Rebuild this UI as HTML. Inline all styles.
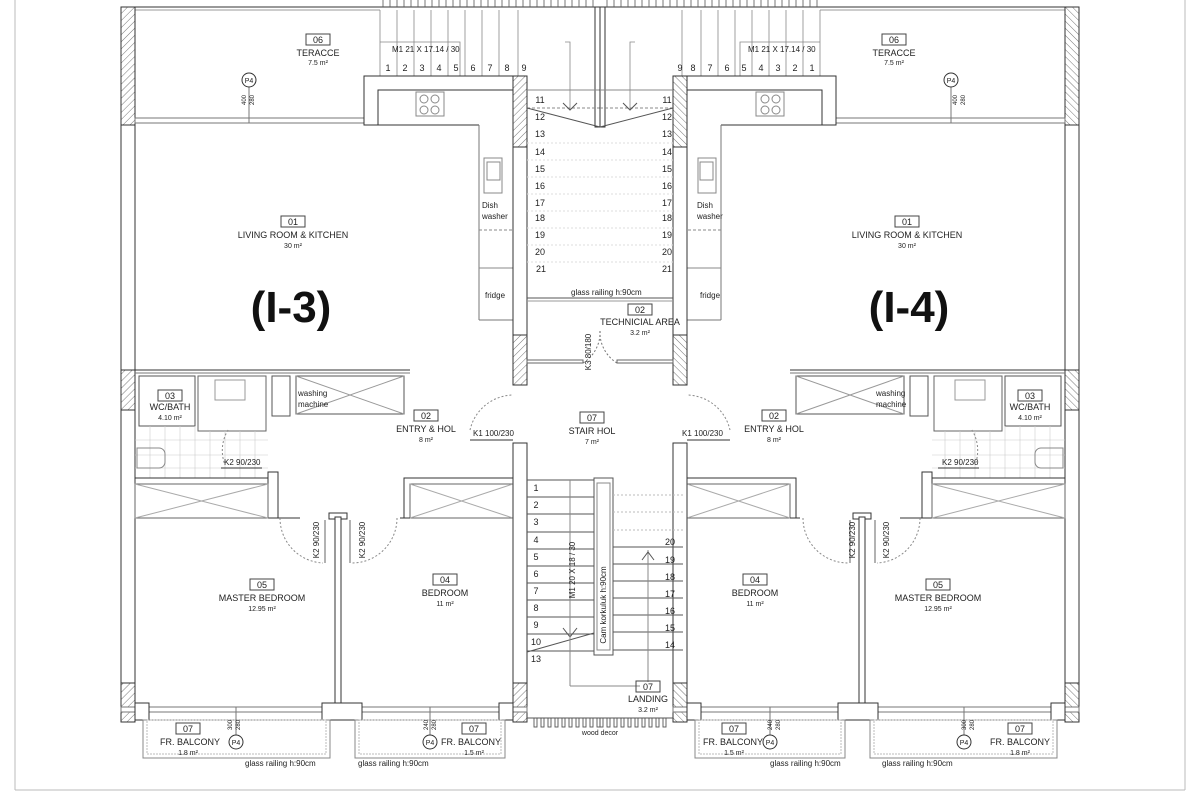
<!DOCTYPE html>
<html><head><meta charset="utf-8"><style>
html,body{margin:0;padding:0;background:#fff}
svg{display:block}
text{font-family:"Liberation Sans",sans-serif;fill:#222}
.t{font-size:9px;text-anchor:middle}
.s{font-size:7px;text-anchor:middle}
.n{font-size:9px;text-anchor:middle}
.big{font-size:44px;font-weight:bold;text-anchor:middle;fill:#111}
</style></head><body>
<svg width="1200" height="800" viewBox="0 0 1200 800" xmlns="http://www.w3.org/2000/svg">
<defs>
<pattern id="h" width="5" height="5" patternUnits="userSpaceOnUse" patternTransform="rotate(45)">
<rect width="5" height="5" fill="#fff"/><line x1="0" y1="0" x2="0" y2="5" stroke="#777" stroke-width="1"/></pattern>
<g id="L" fill="none" stroke="#333" stroke-width="1">
<line x1="15" y1="0" x2="15" y2="790" stroke="#bbb"/>
<line x1="15" y1="790" x2="600" y2="790" stroke="#bbb"/>
<line x1="121" y1="7" x2="600" y2="7"/>
<line x1="121" y1="10" x2="380" y2="10" stroke="#999"/>
<g stroke="#555" stroke-width="0.8">
<line x1="383" y1="0" x2="383" y2="7"/><line x1="390" y1="0" x2="390" y2="7"/><line x1="397" y1="0" x2="397" y2="7"/><line x1="404" y1="0" x2="404" y2="7"/><line x1="411" y1="0" x2="411" y2="7"/><line x1="418" y1="0" x2="418" y2="7"/><line x1="425" y1="0" x2="425" y2="7"/><line x1="432" y1="0" x2="432" y2="7"/><line x1="439" y1="0" x2="439" y2="7"/><line x1="446" y1="0" x2="446" y2="7"/><line x1="453" y1="0" x2="453" y2="7"/><line x1="460" y1="0" x2="460" y2="7"/><line x1="467" y1="0" x2="467" y2="7"/><line x1="474" y1="0" x2="474" y2="7"/><line x1="481" y1="0" x2="481" y2="7"/><line x1="488" y1="0" x2="488" y2="7"/><line x1="495" y1="0" x2="495" y2="7"/><line x1="502" y1="0" x2="502" y2="7"/><line x1="509" y1="0" x2="509" y2="7"/><line x1="516" y1="0" x2="516" y2="7"/><line x1="523" y1="0" x2="523" y2="7"/><line x1="530" y1="0" x2="530" y2="7"/><line x1="537" y1="0" x2="537" y2="7"/><line x1="544" y1="0" x2="544" y2="7"/><line x1="551" y1="0" x2="551" y2="7"/><line x1="558" y1="0" x2="558" y2="7"/><line x1="565" y1="0" x2="565" y2="7"/><line x1="572" y1="0" x2="572" y2="7"/><line x1="579" y1="0" x2="579" y2="7"/><line x1="586" y1="0" x2="586" y2="7"/><line x1="593" y1="0" x2="593" y2="7"/>
</g>
<g stroke="#888" stroke-width="0.8">
<line x1="380" y1="10" x2="380" y2="76"/><line x1="397" y1="10" x2="397" y2="76"/><line x1="414" y1="10" x2="414" y2="76"/><line x1="431" y1="10" x2="431" y2="76"/><line x1="448" y1="10" x2="448" y2="76"/><line x1="465" y1="10" x2="465" y2="76"/><line x1="482" y1="10" x2="482" y2="76"/><line x1="499" y1="10" x2="499" y2="76"/><line x1="518" y1="10" x2="518" y2="76"/>
<path d="M380,42 H460 V76"/><path d="M565,42 H570 V110" />
</g>
<rect x="595" y="7" width="5" height="120" fill="#fff"/>
<rect x="121" y="7" width="14" height="118" fill="url(#h)"/>
<rect x="121" y="125" width="14" height="245"/>
<rect x="121" y="370" width="14" height="40" fill="url(#h)"/>
<rect x="121" y="410" width="14" height="273"/>
<rect x="121" y="683" width="14" height="39" fill="url(#h)"/>
<rect x="135" y="118" width="229" height="5" stroke="#777"/>
<line x1="249" y1="87" x2="249" y2="123" stroke="#777"/>
<circle cx="249" cy="80" r="7" fill="#fff"/>
<path d="M364,125 V76 H513 V90 H378 V125 Z" fill="#fff"/>
<line x1="378" y1="125" x2="479" y2="125"/>
<line x1="479" y1="125" x2="479" y2="320" stroke="#777"/>
<line x1="479" y1="320" x2="513" y2="320" stroke="#777"/>
<rect x="416" y="92" width="28" height="24" stroke="#888"/>
<circle cx="424" cy="99" r="4" stroke="#888"/><circle cx="435" cy="99" r="4" stroke="#888"/><circle cx="424" cy="110" r="4" stroke="#888"/><circle cx="435" cy="110" r="4" stroke="#888"/>
<rect x="484" y="158" width="18" height="35" stroke="#888"/>
<rect x="487" y="162" width="13" height="18" stroke="#888"/>
<line x1="479" y1="230" x2="513" y2="230" stroke="#888" stroke-dasharray="3,2"/>
<line x1="479" y1="268" x2="513" y2="268" stroke="#888"/>
<rect x="513" y="76" width="14" height="71" fill="url(#h)"/>
<rect x="513" y="147" width="14" height="188" fill="#fff"/>
<rect x="513" y="335" width="14" height="50" fill="url(#h)"/>
<line x1="527" y1="90" x2="600" y2="90" stroke="#888"/>
<line x1="527" y1="108" x2="600" y2="108" stroke="#888" stroke-dasharray="3,2"/>
<path d="M527,108 L600,127" stroke="#555"/>
<path d="M563,103 L570,110 L577,103" stroke="#555"/>
<g stroke="#ddd" stroke-dasharray="2,2">
<line x1="527" y1="143" x2="600" y2="143"/><line x1="527" y1="160" x2="600" y2="160"/><line x1="527" y1="177" x2="600" y2="177"/><line x1="527" y1="194" x2="600" y2="194"/><line x1="527" y1="211" x2="600" y2="211"/><line x1="527" y1="228" x2="600" y2="228"/><line x1="527" y1="245" x2="600" y2="245"/><line x1="527" y1="262" x2="600" y2="262"/>
</g>
<line x1="527" y1="298" x2="600" y2="298" stroke="#555"/>
<line x1="527" y1="301" x2="600" y2="301" stroke="#999"/>
<rect x="527" y="360" width="56" height="3" stroke="#666"/>
<path d="M583,363 A 36 36 0 0 0 600,330" stroke="#777" stroke-dasharray="2,2"/>
<line x1="135" y1="370" x2="410" y2="370"/>
<line x1="135" y1="373" x2="410" y2="373" stroke="#777"/>
<rect x="139" y="376" width="56" height="50" stroke="#555"/>
<rect x="198" y="376" width="68" height="55" stroke="#666"/>
<rect x="215" y="380" width="30" height="20" stroke="#999"/>
<rect x="272" y="376" width="18" height="40" stroke="#555"/>
<rect x="296" y="376" width="108" height="38" stroke="#555"/>
<path d="M296,376 L404,414 M404,376 L296,414" stroke="#999"/>
<g stroke="#ccc" stroke-width="0.6">
<line x1="135" y1="440" x2="268" y2="440"/><line x1="135" y1="455" x2="268" y2="455"/><line x1="135" y1="468" x2="268" y2="468"/>
<line x1="150" y1="426" x2="150" y2="478"/><line x1="165" y1="426" x2="165" y2="478"/><line x1="180" y1="426" x2="180" y2="478"/><line x1="195" y1="426" x2="195" y2="478"/><line x1="210" y1="431" x2="210" y2="478"/><line x1="225" y1="431" x2="225" y2="478"/><line x1="240" y1="431" x2="240" y2="478"/><line x1="255" y1="431" x2="255" y2="478"/>
</g>
<path d="M137,448 h22 a6,6 0 0 1 6,6 v8 a6,6 0 0 1 -6,6 h-22 z" stroke="#888"/>
<line x1="221" y1="468" x2="262" y2="468"/>
<path d="M228,430 A 40 40 0 0 0 225,465" stroke="#888" stroke-dasharray="2,2"/>
<line x1="135" y1="478" x2="272" y2="478"/>
<rect x="268" y="472" width="10" height="46" fill="#fff"/>
<rect x="135" y="484" width="133" height="34" stroke="#666"/>
<path d="M135,484 L268,518 M268,484 L135,518" stroke="#aaa"/>
<rect x="404" y="478" width="109" height="40" fill="#fff"/>
<rect x="410" y="484" width="103" height="34" stroke="#666"/>
<path d="M410,484 L513,518 M513,484 L410,518" stroke="#aaa"/>
<line x1="278" y1="518" x2="300" y2="518"/>
<line x1="400" y1="518" x2="410" y2="518"/>
<path d="M280,518 A 45 45 0 0 0 323,563" stroke="#888" stroke-dasharray="2,2"/>
<path d="M397,518 A 45 45 0 0 1 352,563" stroke="#888" stroke-dasharray="2,2"/>
<line x1="325" y1="520" x2="325" y2="563" stroke="#666"/><line x1="350" y1="520" x2="350" y2="563" stroke="#666"/>
<rect x="329" y="513" width="18" height="6" fill="#fff"/>
<rect x="335" y="517" width="6" height="191" fill="#fff"/>
<path d="M470,430 A 45 45 0 0 1 513,395" stroke="#888" stroke-dasharray="2,2"/>
<line x1="470" y1="440" x2="513" y2="440"/>
<rect x="513" y="443" width="14" height="240" fill="#fff"/>
<rect x="513" y="683" width="14" height="39" fill="url(#h)"/>
<rect x="121" y="707" width="406" height="5" fill="#fff" stroke="#777"/>
<rect x="135" y="703" width="14" height="17" fill="#fff"/>
<rect x="322" y="703" width="40" height="17" fill="#fff"/>
<rect x="499" y="703" width="14" height="17" fill="#fff"/>
<rect x="143" y="720" width="187" height="38" stroke="#888"/>
<rect x="147" y="720" width="179" height="34" stroke="#bbb" stroke-dasharray="2,1"/>
<rect x="355" y="720" width="150" height="38" stroke="#888"/>
<rect x="359" y="720" width="142" height="34" stroke="#bbb" stroke-dasharray="2,1"/>
<line x1="236" y1="707" x2="236" y2="735" stroke="#777"/>
<circle cx="236" cy="742" r="7" fill="#fff"/>
<line x1="430" y1="707" x2="430" y2="735" stroke="#777"/>
<circle cx="430" cy="742" r="7" fill="#fff"/>
<line x1="527" y1="718" x2="600" y2="718" stroke="#555"/>
<g stroke="#555" stroke-width="0.9">
<rect x="534" y="718" width="3" height="9"/><rect x="541" y="718" width="3" height="9"/><rect x="548" y="718" width="3" height="9"/><rect x="555" y="718" width="3" height="9"/><rect x="562" y="718" width="3" height="9"/><rect x="569" y="718" width="3" height="9"/><rect x="576" y="718" width="3" height="9"/><rect x="583" y="718" width="3" height="9"/><rect x="590" y="718" width="3" height="9"/><rect x="597" y="718" width="3" height="9"/>
</g>
</g>
</defs>
<use href="#L"/>
<use href="#L" transform="translate(1200,0) scale(-1,1)"/>
<!-- lower stair (asymmetric) -->
<g stroke="#555" fill="none">
<line x1="527" y1="480" x2="594" y2="480"/><line x1="527" y1="497" x2="594" y2="497"/><line x1="527" y1="514" x2="594" y2="514"/><line x1="527" y1="532" x2="594" y2="532"/><line x1="527" y1="549" x2="594" y2="549"/><line x1="527" y1="566" x2="594" y2="566"/><line x1="527" y1="583" x2="594" y2="583"/><line x1="527" y1="600" x2="594" y2="600"/><line x1="527" y1="617" x2="594" y2="617"/><line x1="527" y1="634" x2="594" y2="634"/><line x1="527" y1="651" x2="594" y2="651"/>
<path d="M527,652 L594,633"/>
<path d="M563,628 L570,637 L577,628"/>
<line x1="570" y1="480" x2="570" y2="686" stroke="#888"/>
<line x1="570" y1="686" x2="640" y2="686" stroke="#888"/>
<rect x="594" y="478" width="19" height="177" fill="#fff"/>
<rect x="597" y="483" width="13" height="167" stroke="#888"/>
<line x1="613" y1="547" x2="683" y2="547"/><line x1="613" y1="564" x2="683" y2="564"/><line x1="613" y1="581" x2="683" y2="581"/><line x1="613" y1="598" x2="683" y2="598"/><line x1="613" y1="615" x2="683" y2="615"/><line x1="613" y1="632" x2="683" y2="632"/><line x1="613" y1="650" x2="683" y2="650"/>
<line x1="648" y1="550" x2="648" y2="682" stroke="#888"/>
<path d="M642,560 L648,552 L654,560"/>
</g>
<g stroke="#bbb" fill="none" stroke-dasharray="2,2">
<line x1="613" y1="495" x2="683" y2="495"/><line x1="613" y1="512" x2="683" y2="512"/><line x1="613" y1="530" x2="683" y2="530"/>
</g>
<g class="t">
<rect x="306" y="34" width="24" height="11" fill="none" stroke="#444"/><text x="318" y="43">06</text>
<text x="318" y="56">TERACCE</text><text class="s" x="318" y="65">7.5 m²</text>
<rect x="281" y="216" width="24" height="11" fill="none" stroke="#444"/><text x="293" y="225">01</text>
<text x="293" y="238">LIVING ROOM &amp; KITCHEN</text><text class="s" x="293" y="248">30 m²</text>
<rect x="882" y="34" width="24" height="11" fill="none" stroke="#444"/><text x="894" y="43">06</text>
<text x="894" y="56">TERACCE</text><text class="s" x="894" y="65">7.5 m²</text>
<rect x="895" y="216" width="24" height="11" fill="none" stroke="#444"/><text x="907" y="225">01</text>
<text x="907" y="238">LIVING ROOM &amp; KITCHEN</text><text class="s" x="907" y="248">30 m²</text>
</g>
<text class="big" x="291" y="322">(I-3)</text>
<text class="big" x="909" y="322">(I-4)</text>
<g class="s">
<text x="249" y="83">P4</text><text x="951" y="83">P4</text>
<text x="236" y="745">P4</text><text x="430" y="745">P4</text><text x="964" y="745">P4</text><text x="770" y="745">P4</text>
</g>
<g style="font-size:6px" text-anchor="middle">
<text transform="translate(246,100) rotate(-90)">400</text><text transform="translate(254,100) rotate(-90)">280</text>
<text transform="translate(957,100) rotate(-90)">400</text><text transform="translate(965,100) rotate(-90)">280</text>
<text transform="translate(232,725) rotate(-90)">300</text><text transform="translate(240,725) rotate(-90)">280</text>
<text transform="translate(428,725) rotate(-90)">240</text><text transform="translate(436,725) rotate(-90)">280</text>
<text transform="translate(772,725) rotate(-90)">240</text><text transform="translate(780,725) rotate(-90)">280</text>
<text transform="translate(966,725) rotate(-90)">300</text><text transform="translate(974,725) rotate(-90)">280</text>
</g>
<g style="font-size:8px">
<text x="392" y="52">M1 21 X 17.14 / 30</text>
<text x="748" y="52">M1 21 X 17.14 / 30</text>
<text x="482" y="208">Dish</text><text x="482" y="219">washer</text>
<text x="485" y="298">fridge</text>
<text x="697" y="208">Dish</text><text x="697" y="219">washer</text>
<text x="700" y="298">fridge</text>
<text x="571" y="295">glass railing h:90cm</text>
<text x="298" y="396">washing</text><text x="298" y="407">machine</text>
<text x="876" y="396">washing</text><text x="876" y="407">machine</text>
<text x="224" y="465">K2 90/230</text><text x="942" y="465">K2 90/230</text>
<text x="473" y="436">K1 100/230</text><text x="682" y="436">K1 100/230</text>
<text x="245" y="766">glass railing h:90cm</text>
<text x="358" y="766">glass railing h:90cm</text>
<text x="770" y="766">glass railing h:90cm</text>
<text x="882" y="766">glass railing h:90cm</text>
</g>
<g class="n">
<text x="388" y="71">1</text><text x="405" y="71">2</text><text x="422" y="71">3</text><text x="439" y="71">4</text><text x="456" y="71">5</text><text x="473" y="71">6</text><text x="490" y="71">7</text><text x="507" y="71">8</text><text x="524" y="71">9</text>
<text x="812" y="71">1</text><text x="795" y="71">2</text><text x="778" y="71">3</text><text x="761" y="71">4</text><text x="744" y="71">5</text><text x="727" y="71">6</text><text x="710" y="71">7</text><text x="693" y="71">8</text><text x="680" y="71">9</text>
<text x="540" y="103">11</text><text x="540" y="120">12</text><text x="540" y="137">13</text><text x="540" y="155">14</text><text x="540" y="172">15</text><text x="540" y="189">16</text><text x="540" y="206">17</text><text x="540" y="221">18</text><text x="540" y="238">19</text><text x="540" y="255">20</text><text x="541" y="272">21</text>
<text x="667" y="103">11</text><text x="667" y="120">12</text><text x="667" y="137">13</text><text x="667" y="155">14</text><text x="667" y="172">15</text><text x="667" y="189">16</text><text x="667" y="206">17</text><text x="667" y="221">18</text><text x="667" y="238">19</text><text x="667" y="255">20</text><text x="667" y="272">21</text>
<text x="536" y="491">1</text><text x="536" y="508">2</text><text x="536" y="525">3</text><text x="536" y="543">4</text><text x="536" y="560">5</text><text x="536" y="577">6</text><text x="536" y="594">7</text><text x="536" y="611">8</text><text x="536" y="628">9</text><text x="536" y="645">10</text><text x="536" y="662">13</text>
<text x="670" y="545">20</text><text x="670" y="563">19</text><text x="670" y="580">18</text><text x="670" y="597">17</text><text x="670" y="614">16</text><text x="670" y="631">15</text><text x="670" y="648">14</text>
</g>
<g class="t">
<rect x="628" y="304" width="24" height="11" fill="none" stroke="#444"/><text x="640" y="313">02</text>
<text x="640" y="325">TECHNICIAL AREA</text><text class="s" x="640" y="335">3.2 m²</text>
<rect x="158" y="390" width="24" height="11" fill="none" stroke="#444"/><text x="170" y="399">03</text>
<text x="170" y="410">WC/BATH</text><text class="s" x="170" y="420">4.10 m²</text>
<rect x="1018" y="390" width="24" height="11" fill="none" stroke="#444"/><text x="1030" y="399">03</text>
<text x="1030" y="410">WC/BATH</text><text class="s" x="1030" y="420">4.10 m²</text>
<rect x="414" y="410" width="24" height="11" fill="none" stroke="#444"/><text x="426" y="419">02</text>
<text x="426" y="432">ENTRY &amp; HOL</text><text class="s" x="426" y="442">8 m²</text>
<rect x="762" y="410" width="24" height="11" fill="none" stroke="#444"/><text x="774" y="419">02</text>
<text x="774" y="432">ENTRY &amp; HOL</text><text class="s" x="774" y="442">8 m²</text>
<rect x="580" y="412" width="24" height="11" fill="none" stroke="#444"/><text x="592" y="421">07</text>
<text x="592" y="434">STAIR HOL</text><text class="s" x="592" y="444">7 m²</text>
<rect x="250" y="579" width="24" height="11" fill="none" stroke="#444"/><text x="262" y="588">05</text>
<text x="262" y="601">MASTER BEDROOM</text><text class="s" x="262" y="611">12.95 m²</text>
<rect x="433" y="574" width="24" height="11" fill="none" stroke="#444"/><text x="445" y="583">04</text>
<text x="445" y="596">BEDROOM</text><text class="s" x="445" y="606">11 m²</text>
<rect x="743" y="574" width="24" height="11" fill="none" stroke="#444"/><text x="755" y="583">04</text>
<text x="755" y="596">BEDROOM</text><text class="s" x="755" y="606">11 m²</text>
<rect x="926" y="579" width="24" height="11" fill="none" stroke="#444"/><text x="938" y="588">05</text>
<text x="938" y="601">MASTER BEDROOM</text><text class="s" x="938" y="611">12.95 m²</text>
<rect x="636" y="681" width="24" height="11" fill="none" stroke="#444"/><text x="648" y="690">07</text>
<text x="648" y="702">LANDING</text><text class="s" x="648" y="712">3.2 m²</text>
<rect x="176" y="723" width="24" height="11" fill="none" stroke="#444"/><text x="188" y="732">07</text>
<text x="190" y="745">FR. BALCONY</text><text class="s" x="188" y="755">1.8 m²</text>
<rect x="462" y="723" width="24" height="11" fill="none" stroke="#444"/><text x="474" y="732">07</text>
<text x="471" y="745">FR. BALCONY</text><text class="s" x="474" y="755">1.5 m²</text>
<rect x="722" y="723" width="24" height="11" fill="none" stroke="#444"/><text x="734" y="732">07</text>
<text x="733" y="745">FR. BALCONY</text><text class="s" x="734" y="755">1.5 m²</text>
<rect x="1008" y="723" width="24" height="11" fill="none" stroke="#444"/><text x="1020" y="732">07</text>
<text x="1020" y="745">FR. BALCONY</text><text class="s" x="1020" y="755">1.8 m²</text>
<text class="s" x="600" y="735">wood decor</text>
</g>
<g style="font-size:8px" text-anchor="middle">
<text transform="translate(319,540) rotate(-90)">K2 90/230</text>
<text transform="translate(365,540) rotate(-90)">K2 90/230</text>
<text transform="translate(855,540) rotate(-90)">K2 90/230</text>
<text transform="translate(889,540) rotate(-90)">K2 90/230</text>
<text transform="translate(591,352) rotate(-90)">K3 80/180</text>
<text transform="translate(575,570) rotate(-90)">M1 20 X 18 / 30</text>
<text transform="translate(606,605) rotate(-90)">Cam korkuluk h:90cm</text>
</g>
</svg>
</body></html>
